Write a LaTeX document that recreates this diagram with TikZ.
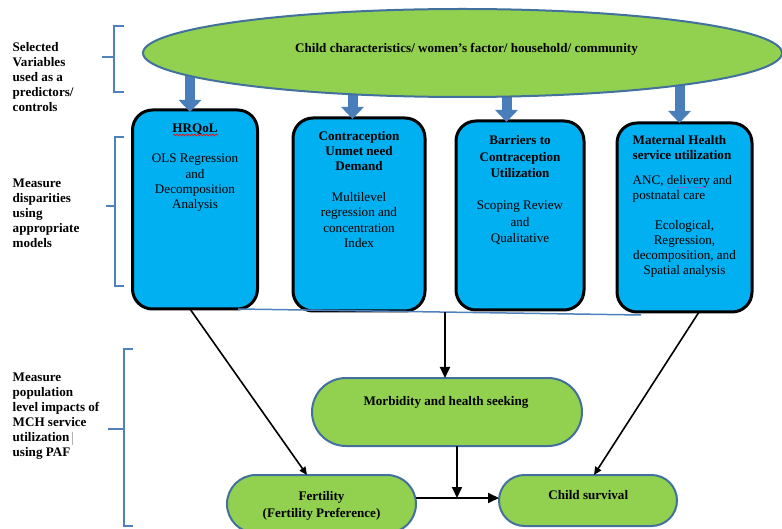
\documentclass[tikz,border=0pt]{standalone}
\usepackage{fontspec}
\setmainfont{Liberation Serif}
\usetikzlibrary{shapes.geometric,shapes.misc,arrows.meta,calc,decorations.pathmorphing}
\definecolor{gfill}{HTML}{92D050}
\definecolor{cfill}{HTML}{00B0F0}
\definecolor{oline}{HTML}{41719C}
\definecolor{barrow}{HTML}{4A7EBB}
\definecolor{brk}{HTML}{4F81BD}
\definecolor{gramm}{RGB}{140,90,200}
\begin{document}
\begin{tikzpicture}[x=1pt,y=-1pt,
  every node/.style={inner sep=0pt,outer sep=0pt},
  txt/.style={font=\fontsize{13.1}{15.3}\selectfont,align=center},
  btxt/.style={font=\fontsize{13.1}{15.3}\selectfont\bfseries,align=center},
  sidetxt/.style={font=\fontsize{13.1}{15}\selectfont\bfseries,align=left,anchor=west},
  bluebox/.style={draw=black,line width=3pt,fill=cfill,rounded corners=20pt},
  greennode/.style={rounded rectangle,rounded rectangle arc length=180,draw=oline,line width=2pt,fill=gfill},
  blockarr/.style={draw=barrow,line width=10pt,-{Triangle[width=22pt,length=12pt]}},
  conn/.style={draw=black,line width=1.9pt,-{Triangle[width=10pt,length=11pt]}},
  thinconn/.style={draw=black,line width=1.6pt,-{Triangle[width=7pt,length=8pt]}},
  brace/.style={draw=brk,line width=1.8pt},
  linkline/.style={draw=brk,line width=1.5pt}
]
\useasboundingbox[fill=white] (0,0) rectangle (782,529);

% side brackets
\draw[brace] (124,26) -- (114,26) -- (114,92) -- (124,92);
\draw[brace] (102,57) -- (114,57);
\draw[brace] (124,137) -- (115,137) -- (115,286) -- (124,286);
\draw[brace] (106,206) -- (115,206);
\draw[brace] (133,349) -- (124,349) -- (124,526) -- (133,526);
\draw[brace] (108,429) -- (124,429);

% side labels
\node[sidetxt] (lab1) at (12.7,76.9) {Selected\\Variables\\used as a\\predictors/\\controls};
\node[sidetxt] (lab2) at (12.7,213) {Measure\\disparities\\using\\appropriate\\models};
\node[sidetxt] (lab3) at (12.7,416.3) {Measure\\population\\level impacts of\\MCH service\\utilization\hspace{3pt}\textcolor{gray!60}{\rule[-3pt]{0.8pt}{13pt}}\\using PAF};

% blue method boxes
\node[bluebox,minimum width=125,minimum height=199] (b1) at (195,209.5) {};
\node[bluebox,minimum width=132,minimum height=193] (b2) at (359,214.5) {};
\node[bluebox,minimum width=128,minimum height=189] (b3) at (520,215.5) {};
\node[bluebox,minimum width=135,minimum height=189] (b4) at (684.5,217.5) {};

% box texts
\node[txt] (b1t) at (195,167.7) {\textbf{HRQoL}\\[15.3pt]OLS Regression\\and\\Decomposition\\Analysis};
\draw[red,line width=0.6pt,decorate,decoration={snake,amplitude=0.9pt,segment length=3pt}] (173,135) -- (218,135);
\node[txt] (b2t) at (359,189.4) {\textbf{Contraception}\\\textbf{Unmet need}\\\textbf{Demand}\\[15.3pt]Multilevel\\regression and\\concentration\\Index};
\node[txt,font=\fontsize{13.1}{16.3}\selectfont] (b3t) at (520,190.2) {\textbf{Barriers to}\\\textbf{Contraception}\\\textbf{Utilization}\\[16.3pt]Scoping Review\\and\\Qualitative};
\node[btxt,align=left,anchor=west,font=\fontsize{13.1}{15}\selectfont\bfseries] (b4h) at (632.7,148) {Maternal Health\\service utilization};
\node[txt,align=left,anchor=west,font=\fontsize{13.1}{15.5}\selectfont] (b4a) at (632.7,188.9) {ANC, delivery and\\postnatal care};
\draw[gramm,densely dotted,line width=0.8pt] (667.5,187) -- (710,187);
\node[txt,font=\fontsize{13.1}{15}\selectfont] (b4m) at (684.5,249.2) {Ecological,\\Regression,\\decomposition, and\\Spatial analysis};

% block arrows from the ellipse
\coordinate (a1s) at (190,72);
\coordinate (a1e) at (190,112);
\coordinate (a2s) at (352.5,90);
\coordinate (a2e) at (352.5,119);
\coordinate (a3s) at (506.5,92);
\coordinate (a3e) at (506.5,122);
\coordinate (a4s) at (679.5,80);
\coordinate (a4e) at (679.5,123);
\draw[blockarr] (a1s) -- (a1e);
\draw[blockarr] (a2s) -- (a2e);
\draw[blockarr] (a3s) -- (a3e);
\draw[blockarr] (a4s) -- (a4e);

% top ellipse
\node[ellipse,draw=oline,line width=2pt,fill=gfill,minimum width=639,minimum height=88] (ell) at (462.5,53) {};
\node[btxt] (ellt) at (466.5,49.3) {Child characteristics/ women’s factor/ household/ community};

% outcome nodes
\node[greennode,minimum width=270,minimum height=68] (morb) at (447,412) {};
\node[btxt] (morbt) at (446,402.3) {Morbidity and health seeking};
\node[greennode,minimum width=189,minimum height=58] (fert) at (321.5,504) {};
\node[btxt,font=\fontsize{13.1}{16.7}\selectfont\bfseries] (fertt) at (321.5,505.7) {Fertility\\(Fertility Preference)};
\node[greennode,minimum width=178,minimum height=51] (child) at (588,500.5) {};
\node[btxt] (childt) at (588.3,495.3) {Child survival};

% connectors
\coordinate (lA) at ($(b1.south)+(43,0)$);
\coordinate (lB) at ($(b4.south)+(-43.5,3)$);
\draw[linkline] (lA) -- (lB);
\coordinate (mtop) at ($(lA)!0.5136!(lB)$);
\draw[conn] (mtop) -- (mtop |- morb.north);
\draw[thinconn] ($(b1.south)+(-5,0)$) -- ($(fert.north)+(-14.5,0)$);
\draw[thinconn] ($(b4.south)+(14.5,0)$) -- ($(child.north)+(6,0)$);
\coordinate (jn) at (457,498);
\draw[conn] (jn |- morb.south) -- (jn);
\draw[conn] (jn -| fert.east) -- (jn -| child.west);
\end{tikzpicture}
\end{document}
